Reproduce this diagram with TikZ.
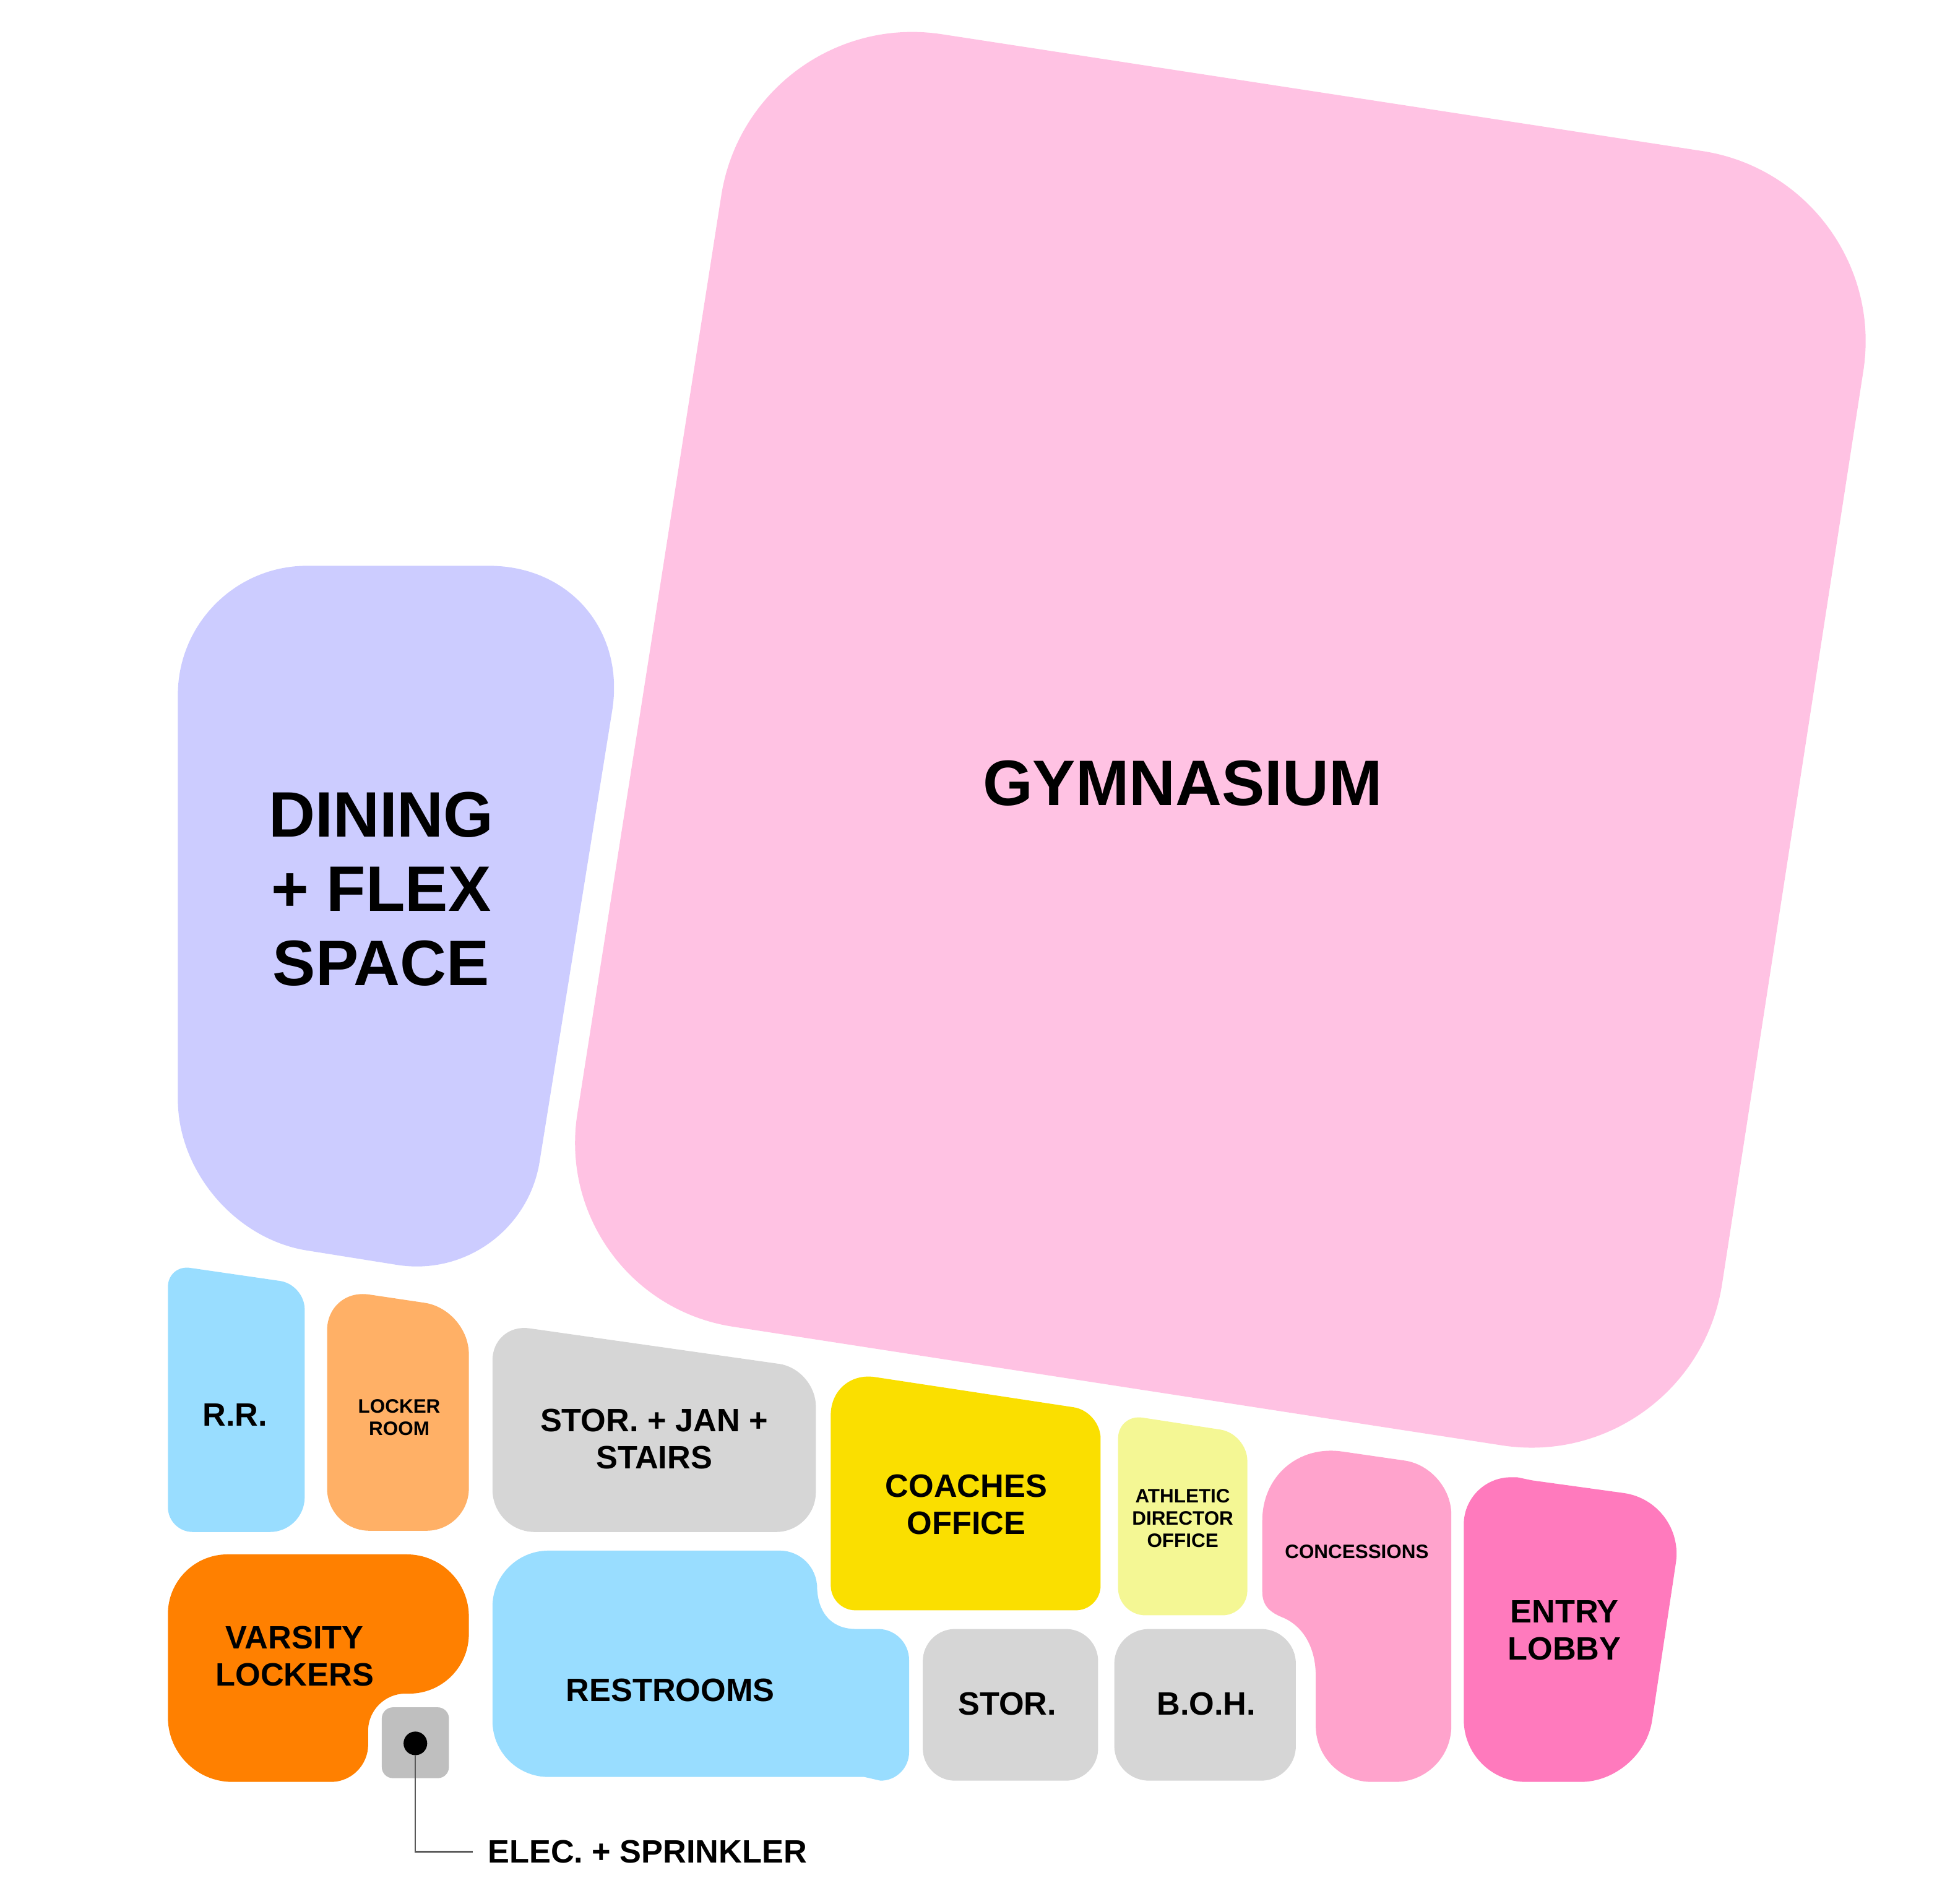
\documentclass[tikz,border=0pt]{standalone}
\usepackage{fontspec}
\setmainfont{Liberation Sans}
\usepackage{xcolor}
\usetikzlibrary{positioning}
\definecolor{gymPink}{HTML}{FFC2E3}
\definecolor{flexLilac}{HTML}{CCCCFF}
\definecolor{wetBlue}{HTML}{99DDFF}
\definecolor{lockerTan}{HTML}{FFB066}
\definecolor{varsityOrange}{HTML}{FF8000}
\definecolor{storGray}{HTML}{D6D6D6}
\definecolor{elecGray}{HTML}{BFBFBF}
\definecolor{coachYellow}{HTML}{FADF00}
\definecolor{adPale}{HTML}{F4F794}
\definecolor{concPink}{HTML}{FFA3CC}
\definecolor{entryPink}{HTML}{FF7ABD}

\begin{document}
\begin{tikzpicture}[
      x=0.2mm,y=-0.2mm,
      rc/.style={rounded corners=#1*0.2mm},
      big/.style={inner sep=0pt,align=center,font=\fontsize{29.4}{33.9}\selectfont\bfseries},
      mid/.style={inner sep=0pt,align=center,font=\fontsize{14.8}{17}\selectfont\bfseries},
      small/.style={inner sep=0pt,align=center,font=\fontsize{8.9}{10.2}\selectfont\bfseries},
      leader/.style={draw=black!65,line width=0.25mm}]
    \useasboundingbox (0,0) rectangle (1568,1530.7);
    % big rooms
    \fill[gymPink] (1000,64.8) [rc=155] -- (1522,145) -- (1361,1186) [rc=150] -- (441,1044) [rc=155] -- (604,4) [sharp corners] -- cycle;
    \fill[flexLilac] (143,700) [rc=104] -- (143,455) [rc=118] -- (511,455) [rc=100] -- (418,1033) [rc=105] -- (143,989) [sharp corners] -- cycle;
    % top row
    \fill[wetBlue] (135,1100) [rc=18] -- (135,1017) [rc=20] -- (245,1033) [rc=28] -- (245,1232) [rc=20] -- (135,1232) [sharp corners] -- cycle;
    \fill[lockerTan] (263,1140) [rc=34] -- (263,1036) [rc=36] -- (377,1053) [rc=34] -- (377,1231) -- (263,1231) [sharp corners] -- cycle;
    \fill[storGray] (396,1150) [rc=30] -- (396,1064) -- (656,1101) [rc=32] -- (656,1232) [rc=34] -- (396,1232) [sharp corners] -- cycle;
    \fill[coachYellow] (668,1200) [rc=36] -- (668,1102) [rc=22] -- (885,1135) [rc=20] -- (885,1295) -- (668,1295) [sharp corners] -- cycle;
    \fill[adPale] (899,1220) [rc=20] -- (899,1137) [rc=22] -- (1003,1153) [rc=20] -- (1003,1299) [rc=22] -- (899,1299) [sharp corners] -- cycle;
    % bottom row
    \fill[varsityOrange] (135,1340) [rc=48] -- (135,1250) [rc=50] -- (377,1250) [rc=48] -- (377,1362) [rc=30] -- (296,1362) -- (296,1433) [rc=52] -- (135,1433) [sharp corners] -- cycle;
    \fill[elecGray] (307,1400) [rc=9] -- (307,1373) -- (361,1373) -- (361,1430) -- (307,1430) [sharp corners] -- cycle;
    \fill[wetBlue] (396,1340) [rc=45] -- (396,1247) [rc=30] -- (657,1247) [sharp corners] -- (657,1275)
      .. controls (657,1296) and (668,1310) .. (688,1310) [rc=25] -- (731,1310) [rc=23] -- (731,1432) [sharp corners] -- (708,1432) -- (695,1429) [rc=45] -- (396,1429) [sharp corners] -- cycle;
    \fill[storGray] (742,1370) [rc=26] -- (742,1310) -- (883,1310) -- (883,1432) -- (742,1432) [sharp corners] -- cycle;
    \fill[storGray] (896,1370) [rc=28] -- (896,1310) -- (1042,1310) -- (1042,1432) -- (896,1432) [sharp corners] -- cycle;
    \fill[concPink] (1015,1240) [rc=65] -- (1015,1158) [rc=38] -- (1167,1180) [rc=45] -- (1167,1433) -- (1058,1433) [sharp corners] -- (1058,1348)
      .. controls (1058,1325) and (1048,1308) .. (1032,1301) .. controls (1022,1297) and (1015,1292) .. (1015,1280) -- cycle;
    \fill[entryPink] (1177,1300) [rc=38] -- (1177,1188) [sharp corners] -- (1220,1188) -- (1232,1190.5) [rc=50] -- (1355,1207.5) -- (1321,1433) -- (1177,1433) [sharp corners] -- cycle;
    % labels
    \node[big] (gym) at (951,630) {GYMNASIUM};
    \node[big] (flex) at (306.5,715) {DINING\\+ FLEX\\SPACE};
    \node[mid] (rr) at (189,1138) {R.R.};
    \node[small] (locker) at (321,1140) {LOCKER\\ROOM};
    \node[mid] (storjan) at (526,1157) {STOR. + JAN +\\STAIRS};
    \node[mid] (coaches) at (777,1210) {COACHES\\OFFICE};
    \node[small] (ad) at (951,1221) {ATHLETIC\\DIRECTOR\\OFFICE};
    \node[small] (conc) at (1091,1248) {CONCESSIONS};
    \node[mid] (entry) at (1258,1311) {ENTRY\\LOBBY};
    \node[mid] (varsity) at (237,1332) {VARSITY\\LOCKERS};
    \node[mid] (rest) at (539,1359) {RESTROOMS};
    \node[mid] (stor) at (810,1370) {STOR.};
    \node[mid] (boh) at (970,1370) {B.O.H.};
    % leader to the riser
    \node[circle,fill=black,inner sep=0pt,minimum size=3.8mm] (riser) at (334,1402) {};
    \node[mid,anchor=west] (elec) at (392,1489) {ELEC. + SPRINKLER};
    \coordinate (elecend) at (380,1489);
    \draw[leader] (riser) |- (elecend);
  \end{tikzpicture}
\end{document}
